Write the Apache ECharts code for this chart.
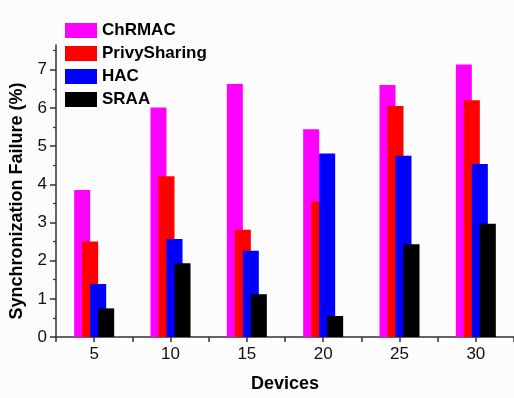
<!DOCTYPE html>
<html>
<head>
<meta charset="utf-8">
<script src="https://cdn.jsdelivr.net/npm/echarts@6/dist/echarts.min.js"></script>
<style>
html,body{margin:0;padding:0;background:#fcfcfc;}
#chart{width:514px;height:398px;}
</style>
</head>
<body>
<div id="chart"></div>
<script>
const devices = [5, 10, 15, 20, 25, 30];
const seriesNames = ['ChRMAC', 'PrivySharing', 'HAC', 'SRAA'];
const chrmac = [3.85, 6.01, 6.63, 5.44, 6.60, 7.14];
const privySharing = [2.50, 4.21, 2.81, 3.55, 6.05, 6.20];
const hac = [1.39, 2.57, 2.26, 4.81, 4.75, 4.53];
const sraa = [0.75, 1.93, 1.12, 0.55, 2.43, 2.97];
const colors = ['#ff00ff', '#ff0000', '#0000ff', '#000000'];
const xTicks = [2.5, 5, 7.5, 10, 12.5, 15, 17.5, 20, 22.5, 25, 27.5, 30, 32.5];
const xLabels = [5, 10, 15, 20, 25, 30];
const yMajor = [0, 1, 2, 3, 4, 5, 6, 7];
const yMinor = [0.5, 1.5, 2.5, 3.5, 4.5, 5.5, 6.5, 7.5];

const font = 'Liberation Sans, Arial, sans-serif';
const axisColor = '#333';
const allValues = [chrmac, privySharing, hac, sraa];

const chart = echarts.init(document.getElementById('chart'), null, {renderer: 'canvas'});
chart.setOption({
  backgroundColor: '#fcfcfc',
  animation: false,
  grid: {left: 55, right: 0, top: 45, bottom: 60, containLabel: false},
  legend: {
    orient: 'vertical', left: 65, top: 22, padding: 0,
    itemWidth: 32, itemHeight: 15, itemGap: 6,
    icon: 'rect',
    data: seriesNames,
    textStyle: {fontFamily: font, fontSize: 17, fontWeight: 'bold', color: '#000'}
  },
  xAxis: {
    type: 'value', min: 2.5, max: 32.5, interval: 2.5,
    name: 'Devices', nameLocation: 'middle', nameGap: 38,
    nameTextStyle: {fontFamily: font, fontSize: 18, fontWeight: 'bold', color: '#000'},
    axisLine: {show: true, onZero: false, lineStyle: {color: axisColor, width: 1.5}},
    axisTick: {show: true, inside: false, length: 5, customValues: xTicks, lineStyle: {color: axisColor, width: 1.5}},
    axisLabel: {customValues: xLabels, fontFamily: font, fontSize: 17, color: '#111', margin: 9},
    splitLine: {show: false}
  },
  yAxis: [{
    type: 'value', min: 0, max: 7.65, interval: 1,
    name: 'Synchronization Failure (%)', nameLocation: 'middle', nameGap: 30, nameRotate: 90,
    nameTextStyle: {fontFamily: font, fontSize: 18, fontWeight: 'bold', color: '#000', padding: [0, 20, 0, 0]},
    axisLine: {show: true, lineStyle: {color: axisColor, width: 1.5}},
    axisTick: {show: true, inside: false, length: 6, customValues: yMajor, lineStyle: {color: axisColor, width: 1.5}},
    axisLabel: {customValues: yMajor, fontFamily: font, fontSize: 17, color: '#111', margin: 9},
    splitLine: {show: false}
  }, {
    type: 'value', min: 0, max: 7.65, position: 'left',
    axisLine: {show: false},
    axisTick: {show: true, inside: false, length: 3, customValues: yMinor, lineStyle: {color: axisColor, width: 1.2}},
    axisLabel: {show: false},
    splitLine: {show: false}
  }],
  series: seriesNames.map((name, i) => ({
    name: name,
    type: 'bar',
    yAxisIndex: 0,
    barWidth: 16,
    barGap: '-50%',
    itemStyle: {color: colors[i]},
    data: devices.map((d, j) => [d, allValues[i][j]])
  }))
});
</script>
</body>
</html>
